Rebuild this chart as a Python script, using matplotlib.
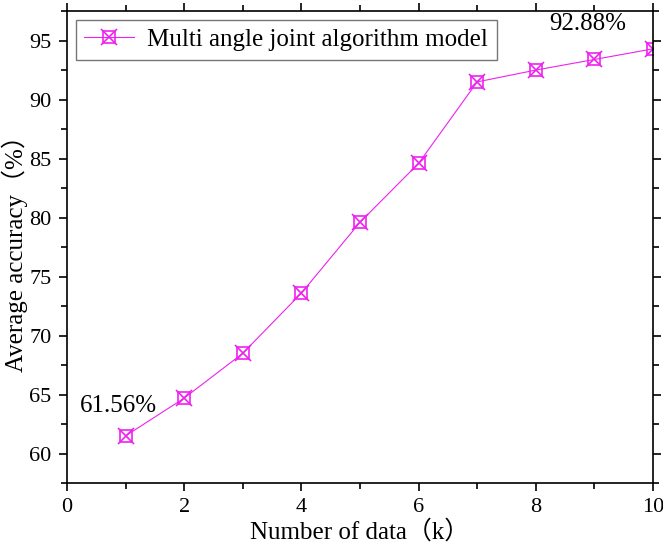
import matplotlib
matplotlib.use('Agg')
import matplotlib.pyplot as plt
from matplotlib.ticker import MultipleLocator
from matplotlib.legend_handler import HandlerTuple

plt.rcParams['font.family'] = ['Liberation Serif', 'DejaVu Serif']

x = [1, 2, 3, 4, 5, 6, 7, 8, 9, 10]
acc = [61.5, 64.7, 68.5, 73.6, 79.6, 84.6, 91.5, 92.5, 93.4, 94.3]
label = 'Multi angle joint algorithm model'
color = '#ee22ee'

fig = plt.figure(figsize=(6.63, 5.54), dpi=100)
ax = fig.add_axes([0.101, 0.128, 0.884, 0.852])

l1, = ax.plot(x, acc, color=color, lw=0.8, marker='s', ms=9,
              markerfacecolor='none', markeredgecolor=color, markeredgewidth=1.2)
l2, = ax.plot(x, acc, ls='none', marker='x', ms=12, color=color, markeredgewidth=1.2)

ax.text(0.87, 64.0, '61.56%', ha='center', va='center', fontsize=18)
ax.text(8.89, 96.4, '92.88%', ha='center', va='center', fontsize=18)

ax.set_xlim(0, 10)
ax.set_ylim(57.5, 97.5)
ax.xaxis.set_major_locator(MultipleLocator(2))
ax.xaxis.set_minor_locator(MultipleLocator(1))
ax.yaxis.set_major_locator(MultipleLocator(5))
ax.yaxis.set_minor_locator(MultipleLocator(2.5))
ax.tick_params(which='both', direction='out', top=True, right=True,
               labeltop=False, labelright=False, width=1.2)
ax.tick_params(which='major', length=6, labelsize=16, pad=5)
ax.tick_params(which='minor', length=4)
for s in ax.spines.values():
    s.set_linewidth(1.2)

ax.set_xlabel('Number of data\uff08k\uff09', fontsize=18, labelpad=2,
              family=['Liberation Serif', 'Noto Sans CJK SC'])
ax.set_ylabel('Average accuracy\uff08%\uff09', fontsize=18, labelpad=1,
              family=['Liberation Serif', 'Noto Sans CJK SC'])

leg = ax.legend([(l1, l2)], [label], loc='upper left', fontsize=18,
                handler_map={tuple: HandlerTuple(ndivide=1)},
                fancybox=False, edgecolor='#777777', framealpha=1,
                borderaxespad=0.35, handlelength=2.0, handletextpad=0.5,
                borderpad=0.35)
leg.get_frame().set_linewidth(1.0)

fig.savefig('out.png', dpi=100)
